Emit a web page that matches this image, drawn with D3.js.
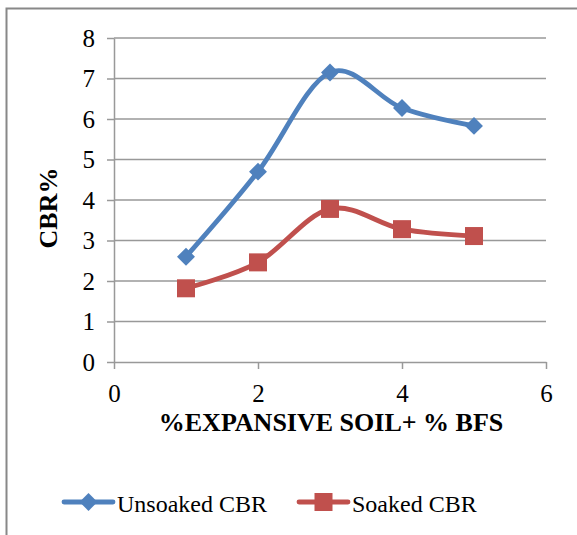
<!DOCTYPE html>
<html>
<head>
<meta charset="utf-8">
<script src="https://cdn.jsdelivr.net/npm/d3@7"></script>
<style>
  html, body { margin: 0; padding: 0; background: #fff; }
  svg { display: block; }
</style>
</head>
<body>
<script>
// CBR test results for expansive soil blended with blast furnace slag
const mixSteps = [1, 2, 3, 4, 5];
const unsoakedCBR = [2.6, 4.7, 7.15, 6.27, 5.83];
const soakedCBR = [1.82, 2.46, 3.78, 3.28, 3.11];
const xTicks = [0, 2, 4, 6];
const yTicks = [0, 1, 2, 3, 4, 5, 6, 7, 8];
const seriesNames = ["Unsoaked CBR", "Soaked CBR"];

const W = 577, H = 535;
const svg = d3.select("body").append("svg").attr("width", W).attr("height", H);

// outer chart frame (continues past the right and bottom edges)
svg.append("rect")
  .attr("x", 6.5).attr("y", 8.5)
  .attr("width", 700).attr("height", 700)
  .attr("fill", "none").attr("stroke", "#888").attr("stroke-width", 2);

const x = d3.scaleLinear().domain([0, 6]).range([114, 546]);
const y = d3.scaleLinear().domain([0, 8]).range([362, 38]);

const gridColor = "#999";
const font = "'Liberation Serif', 'Times New Roman', serif";

// horizontal gridlines
svg.append("g").selectAll("line").data(yTicks.filter(d => d > 0)).join("line")
  .attr("x1", x(0)).attr("x2", x(6))
  .attr("y1", d => y(d)).attr("y2", d => y(d))
  .attr("stroke", gridColor).attr("stroke-width", 1.5);

// y axis
const yAxis = svg.append("g").attr("transform", `translate(${x(0)},0)`)
  .call(d3.axisLeft(y).tickValues(yTicks).tickFormat(d3.format("d"))
    .tickSize(7).tickPadding(12).tickSizeOuter(0));
// x axis
const xAxis = svg.append("g").attr("transform", `translate(0,${y(0)})`)
  .call(d3.axisBottom(x).tickValues(xTicks).tickFormat(d3.format("d"))
    .tickSize(7).tickPadding(15).tickSizeOuter(0));

[yAxis, xAxis].forEach(g => {
  g.select(".domain").attr("stroke", gridColor).attr("stroke-width", 1.5);
  g.selectAll(".tick line").attr("stroke", gridColor).attr("stroke-width", 1.5);
  g.selectAll(".tick text").attr("fill", "#000")
    .style("font-family", font).style("font-size", "25px");
});

// axis titles
svg.append("text")
  .attr("transform", `translate(57,${(y(0) + y(8)) / 2 + 8}) rotate(-90)`)
  .attr("text-anchor", "middle")
  .style("font-family", font).style("font-size", "26px").style("font-weight", "bold")
  .text("CBR%");

svg.append("text")
  .attr("x", 331).attr("y", 431)
  .attr("text-anchor", "middle")
  .style("font-family", font).style("font-size", "26px").style("font-weight", "bold")
  .text("%EXPANSIVE SOIL+ % BFS");

// smoothed series lines
const colors = ["#4F81BD", "#C0504D"];
const line = d3.line()
  .x((d, i) => x(mixSteps[i]))
  .y(d => y(d))
  .curve(d3.curveCardinal.tension(0));

[unsoakedCBR, soakedCBR].forEach((vals, k) => {
  svg.append("path").datum(vals)
    .attr("d", line)
    .attr("fill", "none")
    .attr("stroke", colors[k]).attr("stroke-width", 4.8)
    .attr("stroke-linecap", "round");
});

// markers
const diamond = d3.symbol().type(d3.symbolDiamond2).size(205);
const sq = 18;
svg.append("g").selectAll("path").data(unsoakedCBR).join("path")
  .attr("transform", (d, i) => `translate(${x(mixSteps[i])},${y(d)})`)
  .attr("d", diamond)
  .attr("fill", colors[0]);

svg.append("g").selectAll("rect").data(soakedCBR).join("rect")
  .attr("x", (d, i) => x(mixSteps[i]) - sq / 2)
  .attr("y", d => y(d) - sq / 2)
  .attr("width", sq).attr("height", sq)
  .attr("fill", colors[1]);

// legend
const legend = svg.append("g").attr("transform", "translate(0,502)");
const legendItems = [
  { name: seriesNames[0], x0: 64, color: colors[0], marker: "diamond" },
  { name: seriesNames[1], x0: 299, color: colors[1], marker: "square" }
];
legendItems.forEach(it => {
  const g = legend.append("g");
  g.append("line")
    .attr("x1", it.x0).attr("x2", it.x0 + 49)
    .attr("y1", 0).attr("y2", 0)
    .attr("stroke", it.color).attr("stroke-width", 4.8).attr("stroke-linecap", "round");
  if (it.marker === "diamond") {
    g.append("path")
      .attr("transform", `translate(${it.x0 + 24.5},0)`)
      .attr("d", diamond).attr("fill", it.color);
  } else {
    g.append("rect")
      .attr("x", it.x0 + 24.5 - sq / 2).attr("y", -sq / 2)
      .attr("width", sq).attr("height", sq).attr("fill", it.color);
  }
  g.append("text")
    .attr("x", it.x0 + 53).attr("y", 10)
    .style("font-family", font).style("font-size", "24px")
    .text(it.name);
});
</script>
</body>
</html>
